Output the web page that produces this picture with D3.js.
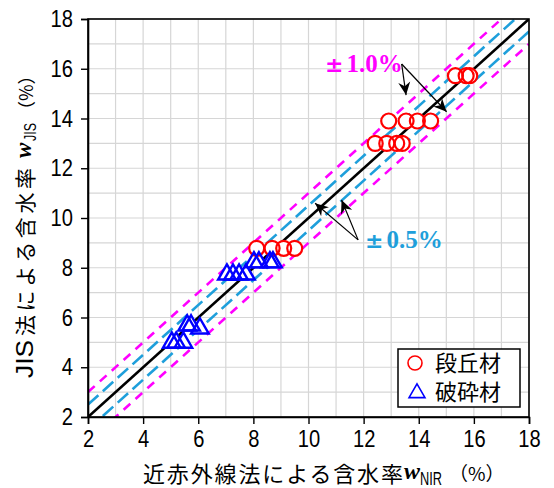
<!DOCTYPE html>
<html>
<head>
<meta charset="utf-8">
<script src="https://cdn.jsdelivr.net/npm/d3@7/dist/d3.min.js"></script>
<style>
  html, body { margin: 0; padding: 0; background: #fff; }
  svg { display: block; }
</style>
</head>
<body>
<svg id="chart" width="554" height="488"></svg>
<script>
// 段丘材 (terrace material) — circles
const terraceX = [15.33, 15.72, 15.85, 12.91, 13.54, 13.95, 14.43, 12.42, 12.84, 13.2, 13.4, 8.12, 8.68, 9.1, 9.5];
const terraceY = [15.72, 15.72, 15.72, 13.9, 13.9, 13.9, 13.9, 13.0, 13.0, 13.0, 13.0, 8.78, 8.78, 8.78, 8.78];

// 破砕材 (crushed material) — triangles
const crushedX = [7.04, 7.26, 7.48, 7.73, 8.02, 8.2, 8.6, 8.71, 5.6, 5.74, 6.06, 5.04, 5.2, 5.46];
const crushedY = [7.79, 7.79, 7.79, 7.79, 8.28, 8.28, 8.28, 8.28, 5.74, 5.74, 5.62, 5.05, 5.05, 5.05];

const xTicks = [2, 4, 6, 8, 10, 12, 14, 16, 18];
const yTicks = [2, 4, 6, 8, 10, 12, 14, 16, 18];
const gridValues = d3.range(2, 19, 1);

// reference lines: offset from the 1:1 line
const lineOffsets = [0];
const band05 = [0.5, -0.5];
const band10 = [1.0, -1.0];

const legendLabels = ["段丘材", "破砕材"];

const svg = d3.select("#chart");
const W = 554, H = 488;
const m = { left: 88, top: 19, right: 25, bottom: 71 };
const pw = W - m.left - m.right;
const ph = H - m.top - m.bottom;

const x = d3.scaleLinear().domain([2, 18]).range([m.left, m.left + pw]);
const y = d3.scaleLinear().domain([2, 18]).range([m.top + ph, m.top]);

const RED = "#ff0000", BLUE = "#0000ff", MAG = "#ff00ff", CYAN = "#1e9fdb";

const defs = svg.append("defs");
defs.append("clipPath").attr("id", "plotClip")
  .append("rect").attr("x", m.left).attr("y", m.top).attr("width", pw).attr("height", ph);
defs.append("marker")
  .attr("id", "arrowHead")
  .attr("markerUnits", "userSpaceOnUse")
  .attr("viewBox", "-14 -7 16 14")
  .attr("refX", 0).attr("refY", 0)
  .attr("markerWidth", 16).attr("markerHeight", 14)
  .attr("orient", "auto")
  .append("path")
  .attr("d", "M0,0 L-13,-6 L-9,0 L-13,6 Z")
  .attr("fill", "#000");

// grid
const grid = svg.append("g");
grid.selectAll("line.gx").data(gridValues).join("line")
  .attr("x1", d => x(d)).attr("x2", d => x(d))
  .attr("y1", m.top).attr("y2", m.top + ph)
  .attr("stroke", "#d6d6d6").attr("stroke-width", 1.2);
grid.selectAll("line.gy").data(gridValues).join("line")
  .attr("y1", d => y(d)).attr("y2", d => y(d))
  .attr("x1", m.left).attr("x2", m.left + pw)
  .attr("stroke", "#d6d6d6").attr("stroke-width", 1.2);

// reference lines
const lines = svg.append("g").attr("clip-path", "url(#plotClip)");
function refLine(off) {
  return [[2, 2 + off], [18, 18 + off]];
}
const lineGen = d3.line().x(d => x(d[0])).y(d => y(d[1]));
lines.selectAll("path.m").data(band10).join("path")
  .attr("d", d => lineGen(refLine(d)))
  .attr("fill", "none").attr("stroke", MAG).attr("stroke-width", 2.6)
  .attr("stroke-dasharray", "9,7");
lines.selectAll("path.c").data(band05).join("path")
  .attr("d", d => lineGen(refLine(d)))
  .attr("fill", "none").attr("stroke", CYAN).attr("stroke-width", 2.6)
  .attr("stroke-dasharray", "14,6");
lines.selectAll("path.k").data(lineOffsets).join("path")
  .attr("d", d => lineGen(refLine(d)))
  .attr("fill", "none").attr("stroke", "#000").attr("stroke-width", 2.6);

// annotation arrows
const arrows = [
  { from: [13.38, 16.19], to: [13.54, 14.94] },
  { from: [13.38, 16.19], to: [15.01, 14.27] },
  { from: [11.8, 9.12], to: [10.24, 10.59] },
  { from: [11.8, 9.12], to: [11.2, 10.72] }
];
svg.append("g").selectAll("line").data(arrows).join("line")
  .attr("x1", d => x(d.from[0])).attr("y1", d => y(d.from[1]))
  .attr("x2", d => x(d.to[0])).attr("y2", d => y(d.to[1]))
  .attr("stroke", "#000").attr("stroke-width", 1.2)
  .attr("marker-end", "url(#arrowHead)");

// markers
const terrace = terraceX.map((v, i) => [v, terraceY[i]]);
const crushed = crushedX.map((v, i) => [v, crushedY[i]]);
const R = 7.5;
const tri = d3.symbol().type(d3.symbolTriangle).size(135);

const pts = svg.append("g");
// white interiors first, then outlines so overlapping markers all show
pts.selectAll("circle.f").data(terrace).join("circle")
  .attr("cx", d => x(d[0])).attr("cy", d => y(d[1])).attr("r", R)
  .attr("fill", "#fff");
pts.selectAll("path.f").data(crushed).join("path")
  .attr("d", tri).attr("transform", d => `translate(${x(d[0])},${y(d[1]) + 1.5})`)
  .attr("fill", "#fff");
pts.selectAll("circle.s").data(terrace).join("circle")
  .attr("cx", d => x(d[0])).attr("cy", d => y(d[1])).attr("r", R)
  .attr("fill", "none").attr("stroke", RED).attr("stroke-width", 2.2);
pts.selectAll("path.s").data(crushed).join("path")
  .attr("d", tri).attr("transform", d => `translate(${x(d[0])},${y(d[1]) + 1.5})`)
  .attr("fill", "none").attr("stroke", BLUE).attr("stroke-width", 2.4);

// frame
svg.append("rect").attr("x", m.left).attr("y", m.top).attr("width", pw).attr("height", ph)
  .attr("fill", "none").attr("stroke", "#000").attr("stroke-width", 1.6);

// axes — narrow numerals
const tickFont = "'Liberation Sans', Arial, sans-serif";
const xAxis = svg.append("g").attr("transform", `translate(0,${m.top + ph})`)
  .call(d3.axisBottom(x).tickValues(xTicks).tickSize(7).tickPadding(6).tickFormat(d3.format("d")));
const yAxis = svg.append("g").attr("transform", `translate(${m.left},0)`)
  .call(d3.axisLeft(y).tickValues(yTicks).tickSize(7).tickPadding(8).tickFormat(d3.format("d")));
[xAxis, yAxis].forEach(a => {
  a.select(".domain").attr("stroke", "#000").attr("stroke-width", 1.6);
  a.selectAll(".tick line").attr("stroke", "#000").attr("stroke-width", 1.4);
  a.selectAll(".tick text").attr("fill", "#000")
    .style("font-family", tickFont).style("font-size", "24px")
    .attr("lengthAdjust", "spacingAndGlyphs")
    .attr("textLength", function () { return 11.2 * this.textContent.length; });
});

// annotation labels
const annFont = "'Liberation Serif', 'Times New Roman', serif";
function annLabel(xv, yv, color, num) {
  const t = svg.append("text").attr("x", x(xv)).attr("y", y(yv)).attr("fill", color)
    .style("font-family", annFont).style("font-weight", "bold").style("font-size", "25px");
  t.append("tspan").style("font-family", "'DejaVu Sans', sans-serif").style("font-size", "22px").text("±");
  t.append("tspan").attr("dx", 3).text(num);
}
annLabel(10.6, 15.87, MAG, "1.0%");
annLabel(12.05, 8.79, CYAN, "0.5%");

// legend
const lg = svg.append("g");
lg.append("rect").attr("x", 398).attr("y", 349).attr("width", 122).attr("height", 58)
  .attr("fill", "#fff").attr("stroke", "#000").attr("stroke-width", 1.5);
lg.append("circle").attr("cx", 415).attr("cy", 363).attr("r", 7)
  .attr("fill", "#fff").attr("stroke", RED).attr("stroke-width", 1.6);
lg.append("path").attr("d", d3.symbol().type(d3.symbolTriangle).size(110))
  .attr("transform", "translate(417,393)")
  .attr("fill", "#fff").attr("stroke", BLUE).attr("stroke-width", 1.6);
lg.selectAll("text").data(legendLabels).join("text")
  .attr("x", 435).attr("y", (d, i) => 371 + i * 29)
  .style("font-family", "'Noto Sans CJK JP', sans-serif").style("font-size", "22px")
  .attr("fill", "#000").text(d => d);

// axis titles
const cjk = "'Noto Sans CJK JP', sans-serif";
const xt = svg.append("g").attr("fill", "#000");
xt.append("text").attr("x", 143).attr("y", 482).style("font-family", cjk).style("font-size", "22px")
  .attr("textLength", 260).text("近赤外線法による含水率");
xt.append("text").attr("x", 404).attr("y", 479)
  .style("font-family", "'Liberation Serif', serif").style("font-style", "italic").style("font-weight", "bold")
  .style("font-size", "24px").text("w");
xt.append("text").attr("x", 420).attr("y", 485)
  .style("font-family", tickFont).style("font-size", "18px")
  .attr("lengthAdjust", "spacingAndGlyphs").attr("textLength", 22).text("NIR");
xt.append("text").attr("x", 449).attr("y", 481).style("font-family", cjk).style("font-size", "19px").text("（%）");

const yt = svg.append("g").attr("fill", "#000").attr("transform", "translate(33,0) rotate(-90)");
yt.append("text").attr("x", -378).attr("y", 0).style("font-family", tickFont).style("font-size", "24px")
  .attr("lengthAdjust", "spacingAndGlyphs").attr("textLength", 38).text("JIS");
yt.append("text").attr("x", -336).attr("y", 0).style("font-family", cjk).style("font-size", "21px")
  .attr("textLength", 168).text("法による含水率");
yt.append("text").attr("x", -158).attr("y", -2)
  .style("font-family", "'Liberation Serif', serif").style("font-style", "italic").style("font-weight", "bold")
  .style("font-size", "23px").text("w");
yt.append("text").attr("x", -141).attr("y", 3)
  .style("font-family", tickFont).style("font-size", "17px")
  .attr("lengthAdjust", "spacingAndGlyphs").attr("textLength", 18).text("JIS");
yt.append("text").attr("x", -119).attr("y", 0).style("font-family", cjk).style("font-size", "18px").text("（%）");
</script>
</body>
</html>
